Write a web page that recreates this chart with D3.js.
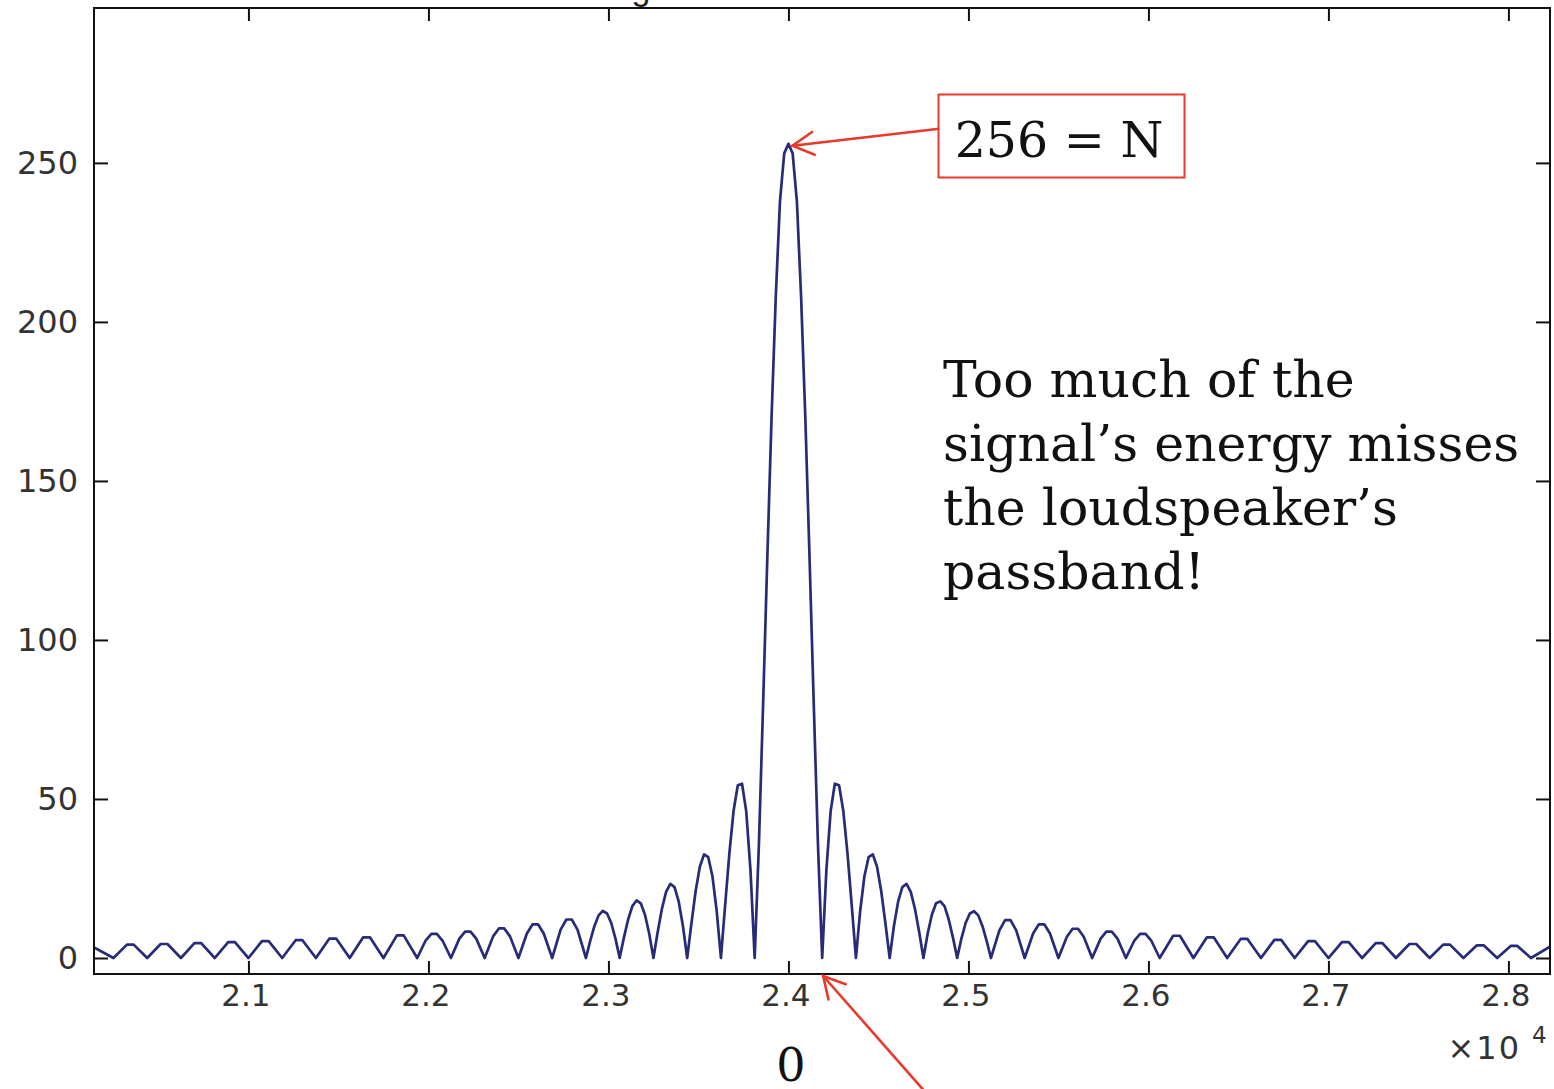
<!DOCTYPE html>
<html><head><meta charset="utf-8">
<script src="https://cdn.jsdelivr.net/npm/d3@7"></script>
<style>
html,body{margin:0;padding:0;background:#fff;}
svg{display:block;}
</style></head>
<body>
<svg id="chart" width="1554" height="1089"></svg>
<script>
// ---- data (frequency in units of 10^4, magnitude) ----
const xTicks = [2.1, 2.2, 2.3, 2.4, 2.5, 2.6, 2.7, 2.8];
const yTicks = [0, 50, 100, 150, 200, 250];

const leftFarLobes = [
  [2.0142,3.3],
  [2.025,0],[2.0325,4.2],[2.03625,4.2],
  [2.04375,0],[2.05125,4.4],[2.055,4.4],
  [2.0625,0],[2.07,4.7],[2.07375,4.7],
  [2.08125,0],[2.08875,5.0],[2.0925,5.0],
  [2.1,0],[2.1075,5.3],[2.11125,5.3],
  [2.11875,0],[2.12625,5.6],[2.13,5.6],
  [2.1375,0],[2.145,6.1],[2.14875,6.1],
  [2.15625,0],[2.16375,6.5],[2.1675,6.5],
  [2.175,0],[2.1825,7.1],[2.18625,7.1]
];
const leftMidLobes = [
  [2.19375,0],[2.19844,5.5],[2.20163,7.6],[2.20463,7.6],[2.20781,5.5],
  [2.2125,0],[2.21719,6.1],[2.22038,8.3],[2.22338,8.3],[2.22656,6.1],
  [2.23125,0],[2.23594,6.8],[2.23913,9.3],[2.24213,9.3],[2.24531,6.8],
  [2.25,0],[2.25469,7.7],[2.25788,10.6],[2.26088,10.6],[2.26406,7.7],
  [2.26875,0],[2.27344,8.9],[2.27663,12.1],[2.27963,12.1],[2.28281,8.9]
];
const leftNearLobes = [
  [2.2875,0],[2.28984,5.3],[2.29219,10.0],[2.29453,13.4],[2.29688,14.8],[2.29922,14.0],[2.30156,11.0],[2.30391,6.1],
  [2.30625,0],[2.30859,6.4],[2.31094,12.1],[2.31328,16.3],[2.31563,18.1],[2.31797,17.2],[2.32031,13.6],[2.32266,7.6],
  [2.325,0],[2.32734,8.1],[2.32969,15.4],[2.33203,20.8],[2.33438,23.3],[2.33672,22.3],[2.33906,17.7],[2.34141,10.0],
  [2.34375,0],[2.34609,10.8],[2.34844,21.0],[2.35078,28.7],[2.35313,32.6],[2.35547,31.7],[2.35781,25.6],[2.36016,14.7],
  [2.3625,0],[2.36484,16.6],[2.36719,32.9],[2.36953,46.3],[2.37188,54.3],[2.37422,54.8],[2.37656,46.1],[2.37891,27.7]
];
const mainLobe = [
  [2.38125,0],[2.38359,35.6],[2.38594,80.0],[2.38828,126.0],[2.39063,170.0],[2.39297,208.0],[2.39531,238.0],[2.39766,253.0],
  [2.4,256.0],
  [2.40234,253.0],[2.40469,238.0],[2.40703,208.0],[2.40938,170.0],[2.41172,126.0],[2.41406,80.0],[2.41641,35.6]
];
const rightNearLobes = [
  [2.41875,0],[2.42109,27.7],[2.42344,46.1],[2.42578,54.8],[2.42813,54.3],[2.43047,46.3],[2.43281,32.9],[2.43516,16.6],
  [2.4375,0],[2.43984,14.7],[2.44219,25.6],[2.44453,31.7],[2.44688,32.6],[2.44922,28.7],[2.45156,21.0],[2.45391,10.8],
  [2.45625,0],[2.45859,10.0],[2.46094,17.7],[2.46328,22.3],[2.46563,23.3],[2.46797,20.8],[2.47031,15.4],[2.47266,8.1],
  [2.475,0],[2.47734,7.6],[2.47969,13.6],[2.48203,17.2],[2.48438,17.8],[2.48672,16.3],[2.48906,12.1],[2.49141,6.4],
  [2.49375,0],[2.49609,6.1],[2.49844,11.0],[2.50078,14.0],[2.50313,14.7],[2.50547,13.4],[2.50781,10.0],[2.51016,5.3]
];
const rightMidLobes = [
  [2.5125,0],[2.51719,8.7],[2.52038,11.9],[2.52338,11.9],[2.52656,8.7],
  [2.53125,0],[2.53594,7.7],[2.53913,10.6],[2.54213,10.6],[2.54531,7.7],
  [2.55,0],[2.55469,6.7],[2.55788,9.2],[2.56088,9.2],[2.56406,6.7],
  [2.56875,0],[2.57344,6.1],[2.57663,8.3],[2.57963,8.3],[2.58281,6.1],
  [2.5875,0],[2.59219,5.5],[2.59538,7.6],[2.59838,7.6],[2.60156,5.5]
];
const rightFarLobes = [
  [2.60625,0],[2.61375,7.0],[2.6175,7.0],
  [2.625,0],[2.6325,6.5],[2.63625,6.5],
  [2.64375,0],[2.65125,6.0],[2.655,6.0],
  [2.6625,0],[2.67,5.7],[2.67375,5.7],
  [2.68125,0],[2.68875,5.3],[2.6925,5.3],
  [2.7,0],[2.7075,5.0],[2.71125,5.0],
  [2.71875,0],[2.72625,4.7],[2.73,4.7],
  [2.7375,0],[2.745,4.4],[2.74875,4.4],
  [2.75625,0],[2.76375,4.2],[2.7675,4.2],
  [2.775,0],[2.7825,4.0],[2.78625,4.0],
  [2.79375,0],[2.80125,3.8],[2.805,3.8],
  [2.8125,0],[2.8231,3.6]
];
const peakLabel = "256 = N";
const nullLabel = "0";
const noteLines = ["Too much of the", "signal\u2019s energy misses", "the loudspeaker\u2019s", "passband!"];

// ---- drawing ----
const spectrum = [].concat(leftFarLobes, leftMidLobes, leftNearLobes, mainLobe, rightNearLobes, rightMidLobes, rightFarLobes);

const svg = d3.select("#chart");
const L = 94, R = 1550, T = 8, B = 974;
const x = d3.scaleLinear().domain([2.0142, 2.8231]).range([L, R]);
const y = d3.scaleLinear().domain([-5.03, 298.7]).range([B, T]);

svg.append("rect").attr("width",1554).attr("height",1089).attr("fill","#fff");

// cut-off title descender (the reference shows only the bottom of this glyph)
svg.append("text").attr("x",641).attr("y",0).attr("text-anchor","middle")
  .attr("font-family","Liberation Sans, Arial, sans-serif").attr("font-size",34).attr("fill","#222").text("g");

svg.append("defs").append("clipPath").attr("id","plotclip")
  .append("rect").attr("x",L).attr("y",T).attr("width",R-L).attr("height",B-T);

const tickFont = g => g.selectAll("text").attr("font-family","DejaVu Sans, sans-serif").attr("font-size",31).attr("fill","#333");

// axes with inward ticks
const gx = svg.append("g").attr("transform",`translate(0,${B})`)
  .call(d3.axisBottom(x).tickValues(xTicks).tickFormat(d3.format(".1f")).tickSizeInner(-13).tickSizeOuter(0).tickPadding(10));
gx.call(tickFont); gx.selectAll("text").attr("dx",-3);
const gxt = svg.append("g").attr("transform",`translate(0,${T})`)
  .call(d3.axisTop(x).tickValues(xTicks).tickFormat("").tickSizeInner(-13).tickSizeOuter(0));
const gy = svg.append("g").attr("transform",`translate(${L},0)`)
  .call(d3.axisLeft(y).tickValues(yTicks).tickSizeInner(-14).tickSizeOuter(0).tickPadding(16));
gy.call(tickFont); gy.selectAll("text").attr("font-size",32);
const gyr = svg.append("g").attr("transform",`translate(${R},0)`)
  .call(d3.axisRight(y).tickValues(yTicks).tickFormat("").tickSizeInner(-14).tickSizeOuter(0));
[gx,gxt,gy,gyr].forEach(g => { g.select(".domain").remove(); g.selectAll("line").attr("stroke","#111").attr("stroke-width",2); });

// spectrum line
svg.append("path").datum(spectrum)
  .attr("clip-path","url(#plotclip)")
  .attr("fill","none").attr("stroke","#272b78").attr("stroke-width",2.7).attr("stroke-linejoin","round")
  .attr("d", d3.line().x(d => x(d[0])).y(d => y(d[1])));

// frame
svg.append("rect").attr("x",L).attr("y",T).attr("width",R-L).attr("height",B-T)
  .attr("fill","none").attr("stroke","#111").attr("stroke-width",2);

// x10^4
svg.append("text").attr("x",1521).attr("y",1059).attr("text-anchor","end")
  .attr("font-family","DejaVu Sans, sans-serif").attr("font-size",32).attr("letter-spacing",2).attr("fill","#333").text("\u00d710");
svg.append("text").attr("x",1532).attr("y",1043)
  .attr("font-family","DejaVu Sans, sans-serif").attr("font-size",23).attr("fill","#333").text("4");

// annotations
const red = "#e8392a";
function arrow(x1,y1,x2,y2){ // arrow from (x1,y1) with tip at (x2,y2)
  const g = svg.append("g").attr("stroke",red).attr("stroke-width",2.6).attr("fill","none").attr("stroke-linecap","round");
  g.append("line").attr("x1",x1).attr("y1",y1).attr("x2",x2).attr("y2",y2);
  const a = Math.atan2(y1-y2, x1-x2), len = 24, spread = 0.5;
  g.append("path").attr("d",`M${x2+len*Math.cos(a+spread)},${y2+len*Math.sin(a+spread)} L${x2},${y2} L${x2+len*Math.cos(a-spread)},${y2+len*Math.sin(a-spread)}`)
    .attr("stroke-linejoin","miter");
}
// peak box
svg.append("rect").attr("x",938.5).attr("y",94.5).attr("width",246).attr("height",83)
  .attr("fill","#fff").attr("stroke",red).attr("stroke-width",2);
svg.append("text").attr("x",1059).attr("y",157).attr("text-anchor","middle")
  .attr("font-family","DejaVu Serif, serif").attr("font-size",49).attr("fill","#111").text(peakLabel);
arrow(937, 129, x(2.4)+4, y(256)+2);

// null arrow
arrow(927, 1094, x(2.41875)+1, B+2);
svg.append("text").attr("x",791).attr("y",1081).attr("text-anchor","middle")
  .attr("font-family","DejaVu Serif, serif").attr("font-size",46).attr("fill","#111").text(nullLabel);

// note
const note = svg.append("text").attr("font-family","DejaVu Serif, serif").attr("font-size",50.5).attr("fill","#111");
noteLines.forEach((t,i) => note.append("tspan").attr("x",943).attr("y",397 + i*64).text(t));
</script>
</body></html>
